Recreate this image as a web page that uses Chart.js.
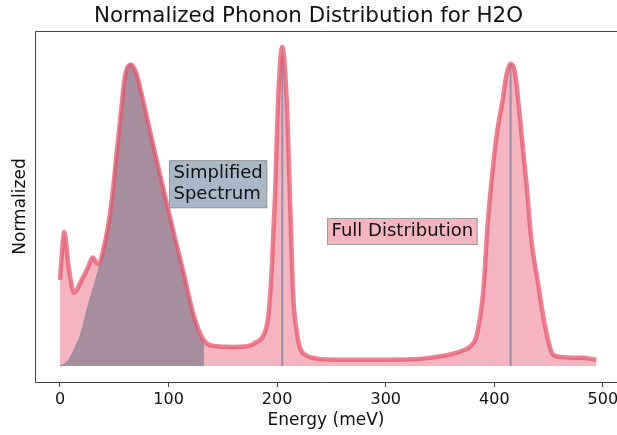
<!DOCTYPE html>
<html>
<head>
<meta charset="utf-8">
<script src="https://cdn.jsdelivr.net/npm/chart.js@4/dist/chart.umd.min.js"></script>
<style>
  html, body { margin: 0; padding: 0; background: #fff; overflow: hidden; }
  #wrap { width: 617px; height: 435px; }
</style>
</head>
<body>
<div id="wrap"><canvas id="phonon-chart" width="617" height="435"></canvas></div>
<script>
// full phonon distribution (energy in meV, normalized intensity)
var energy = [0, 4, 8, 13, 20, 26, 30, 35, 41, 47, 52, 56, 60, 65, 70, 76, 82, 88, 98, 106, 114, 123, 132,
  144, 160, 172, 181, 188, 192, 195, 198, 201, 204.7, 208.7, 211.8, 214.8, 218, 221, 226, 232, 253, 300,
  330, 341, 355, 365, 372, 378, 384, 390, 394, 399, 402, 408, 411, 415, 419, 424, 430, 434, 440, 447,
  454, 462, 470, 480, 494];
var fullDist = [0.27, 0.42, 0.31, 0.23, 0.27, 0.31, 0.34, 0.32, 0.38, 0.5, 0.66, 0.79, 0.91, 0.945, 0.92, 0.84,
  0.75, 0.66, 0.515, 0.4, 0.29, 0.16, 0.083,
  0.062, 0.06, 0.062, 0.075, 0.1, 0.16, 0.3, 0.53, 0.84, 1.0, 0.84, 0.53, 0.22, 0.11, 0.057, 0.035, 0.026, 0.02, 0.02,
  0.022, 0.026, 0.033, 0.041, 0.05, 0.062, 0.1, 0.24, 0.45, 0.63, 0.72, 0.84, 0.91, 0.947, 0.92, 0.765, 0.557, 0.4, 0.265, 0.12,
  0.036, 0.028, 0.026, 0.026, 0.02];

// simplified spectrum (first band)
var simpEnergy = [0, 7, 14, 20, 26, 32, 37, 41, 47, 52, 56, 60, 65, 70, 76, 82, 88, 98, 106, 114, 123, 132, 132];
var simpValues = [0, 0.015, 0.058, 0.11, 0.19, 0.26, 0.32, 0.38, 0.5, 0.66, 0.79, 0.91, 0.945, 0.92, 0.84,
  0.75, 0.66, 0.515, 0.4, 0.29, 0.16, 0.083, 0];

// simplified spectrum delta peaks
var peakEnergies = [204.7, 415];
var peakHeights = [0.97, 0.947];

var xTicks = [0, 100, 200, 300, 400, 500];

var fullPts = energy.map(function(e, i) { return {x: e, y: fullDist[i]}; });
var simpPts = simpEnergy.map(function(e, i) { return {x: e, y: simpValues[i]}; });

var datasets = [
  {
    label: "Full Distribution line",
    data: fullPts,
    borderColor: "rgba(232, 85, 110, 0.75)",
    borderWidth: 4.5,
    pointRadius: 0,
    fill: false,
    cubicInterpolationMode: "monotone",
    order: 0
  }
];
peakEnergies.forEach(function(e, i) {
  datasets.push({
    label: "peak " + i,
    data: [{x: e, y: 0}, {x: e, y: peakHeights[i]}],
    borderColor: "rgba(130, 140, 165, 0.85)",
    borderWidth: 2,
    pointRadius: 0,
    fill: false,
    order: 1
  });
});
datasets.push({
  label: "Simplified Spectrum",
  data: simpPts,
  borderColor: "rgba(140, 135, 160, 0.9)",
  borderWidth: 1,
  backgroundColor: "#a68e9f",
  pointRadius: 0,
  fill: "origin",
  cubicInterpolationMode: "monotone",
  order: 2
});
datasets.push({
  label: "Full Distribution",
  data: fullPts,
  borderWidth: 0,
  backgroundColor: "#f5b5c0",
  pointRadius: 0,
  fill: "origin",
  cubicInterpolationMode: "monotone",
  order: 3
});

var notes = [
  {lines: ["Simplified", "Spectrum"], x: 100.4, y: 0.645, bg: "#a9b8c8"},
  {lines: ["Full Distribution"], x: 246, y: 0.464, bg: "#f5b5c0"}
];

var framePlugin = {
  id: "frame",
  afterDatasetsDraw: function(chart) {
    var ctx = chart.ctx, a = chart.chartArea;
    var xs = chart.scales.x, ys = chart.scales.y;
    ctx.save();
    // text boxes
    ctx.font = "18px 'DejaVu Sans'";
    ctx.textBaseline = "top";
    notes.forEach(function(n) {
      var left = xs.getPixelForValue(n.x), top = ys.getPixelForValue(n.y);
      var w = 0;
      n.lines.forEach(function(l) { w = Math.max(w, ctx.measureText(l).width); });
      var lh = 21;
      var bw = w + 9, bh = lh * n.lines.length + 6;
      ctx.fillStyle = n.bg;
      ctx.fillRect(left, top, bw, bh);
      ctx.strokeStyle = "#999";
      ctx.lineWidth = 1;
      ctx.strokeRect(left + 0.5, top + 0.5, bw - 1, bh - 1);
      ctx.fillStyle = "#111";
      n.lines.forEach(function(l, i) { ctx.fillText(l, left + 4.5, top + 4 + i * lh); });
    });
    // spines: left, top, bottom
    ctx.strokeStyle = "#444";
    ctx.lineWidth = 1;
    ctx.beginPath();
    ctx.moveTo(a.right + 1, a.top + 0.5);
    ctx.lineTo(a.left + 0.5, a.top + 0.5);
    ctx.lineTo(a.left + 0.5, a.bottom + 0.5);
    ctx.lineTo(a.right + 1, a.bottom + 0.5);
    ctx.stroke();
    ctx.restore();
  }
};

var config = {
  type: "line",
  data: { datasets: datasets },
  options: {
    responsive: false,
    animation: false,
    layout: { padding: 0 },
    plugins: {
      legend: { display: false },
      tooltip: { enabled: false },
      title: {
        display: true,
        text: "Normalized Phonon Distribution for H2O",
        color: "#111",
        font: { family: "'DejaVu Sans'", size: 21.4, weight: "normal", lineHeight: 1.2 },
        padding: { top: 4, bottom: 1.3 }
      }
    },
    scales: {
      x: {
        type: "linear",
        min: -23,
        max: 513,
        afterBuildTicks: function(scale) {
          scale.ticks = xTicks.map(function(v) { return {value: v}; });
        },
        afterFit: function(scale) {
          scale.height = 53;
          scale.paddingLeft = 0;
          scale.paddingRight = 0;
        },
        border: { display: false },
        grid: { drawOnChartArea: false, drawTicks: true, tickLength: 5, color: "#444" },
        ticks: {
          color: "#111",
          padding: 3,
          maxRotation: 0,
          font: { family: "'DejaVu Sans'", size: 16 }
        },
        title: {
          display: true,
          text: "Energy (meV)",
          color: "#111",
          font: { family: "'DejaVu Sans'", size: 17, lineHeight: 1.2 },
          padding: { top: 0, bottom: 4 }
        }
      },
      y: {
        type: "linear",
        min: -0.05,
        max: 1.05,
        afterFit: function(scale) { scale.width = 35; },
        border: { display: false },
        grid: { display: false },
        ticks: { display: false },
        title: {
          display: true,
          text: "Normalized",
          color: "#111",
          font: { family: "'DejaVu Sans'", size: 17, lineHeight: 1.2 },
          padding: { top: 10, bottom: 0 }
        }
      }
    }
  },
  plugins: [framePlugin]
};

var ctx = document.getElementById("phonon-chart").getContext("2d");
window.myChart = new Chart(ctx, config);
</script>
</body>
</html>
